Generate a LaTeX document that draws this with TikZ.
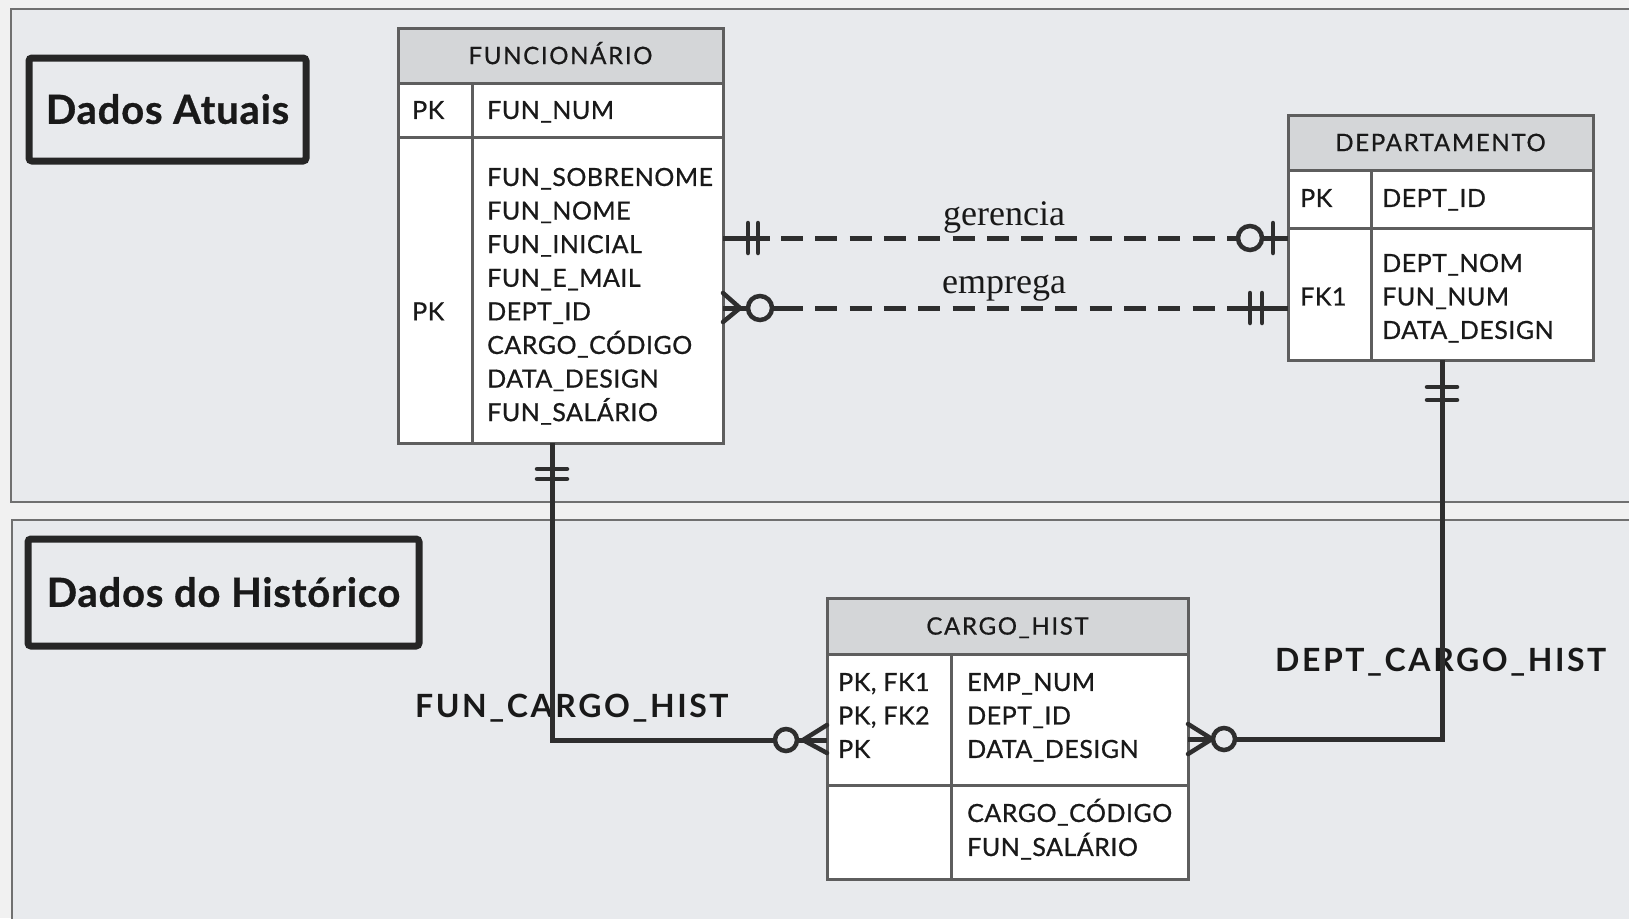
\documentclass[tikz,border=0pt]{standalone}
\usepackage{fontspec}
\usetikzlibrary{calc,positioning}
\newfontfamily\erfont{Lato}[FakeBold=0.7, LetterSpace=2]
\newfontfamily\headfont{Lato}[FakeBold=0.7, LetterSpace=7]
\newfontfamily\namefont{Lato}[LetterSpace=8]
\newfontfamily\relfont{Liberation Serif}
\definecolor{gapgray}{HTML}{F1F1F1}
\definecolor{secgray}{HTML}{E8EAED}
\definecolor{headgray}{HTML}{D4D6D8}
\definecolor{framegray}{HTML}{707070}
\definecolor{linegray}{HTML}{5E5E5E}
\definecolor{inkgray}{HTML}{2E2E2E}

\begin{document}
\begin{tikzpicture}[
    x=1pt, y=-1pt,
    tblcell/.style={draw=linegray, line width=3pt, fill=white, inner sep=0pt, outer sep=0pt, anchor=north west},
    tblhead/.style={tblcell, fill=headgray, font=\headfont\fontsize{24}{24}\selectfont, text=black!90, text height=17.2pt, text depth=0pt},
    celltext/.style={font=\erfont\fontsize{25}{25}\selectfont, text=black!90, inner sep=0pt, text height=17.9pt, text depth=0pt, anchor=west},
    relline/.style={draw=inkgray, line width=5pt},
    reldash/.style={relline, dash pattern=on 22pt off 12.3pt},
    endbar/.style={draw=inkgray, line width=4.5pt, line cap=round, line join=round},
    endring/.style={draw=inkgray, line width=4.5pt, fill=secgray},
    rellabel/.style={font=\relfont\fontsize{36}{36}\selectfont, text=black!90, inner sep=0pt, anchor=base},
    namelabel/.style={font=\namefont\bfseries\fontsize{32}{32}\selectfont, text=black!90, inner sep=0pt, anchor=base west},
    secbox/.style={draw=black!85, line width=7pt, rounded corners=3pt, inner sep=0pt, outer sep=0pt, anchor=north west, font=\erfont\bfseries\fontsize{40}{40}\selectfont, text=black!90, text height=28.6pt, text depth=0pt},
  ]

  % ========= SECTIONS =========
  \path[use as bounding box] (0,0) rectangle (1629,918);
  \clip (0,0) rectangle (1629,918);
  \fill[gapgray] (0,0) rectangle (1629,918);
  \draw[framegray, line width=2.5pt, fill=secgray] (11,9) rectangle (1660,502);
  \draw[framegray, line width=2.5pt, fill=secgray] (12,520) rectangle (1660,950);

  \node[secbox, minimum width=277pt, minimum height=103pt] (atuais) at (29,58) {Dados Atuais};
  \node[secbox, minimum width=391pt, minimum height=107pt] (hist) at (28,539) {Dados do Histórico};

  % ========= FUNCIONARIO =========
  \node[tblhead, minimum width=325pt, minimum height=55pt] (fun-head) at (398,28) {FUNCIONÁRIO};
  \node[tblcell, minimum width=74pt, minimum height=54pt] (fun-pk) at (398,83) {};
  \node[tblcell, minimum width=251pt, minimum height=54pt] (fun-id) at (472,83) {};
  \node[tblcell, minimum width=74pt, minimum height=306pt] (fun-fk) at (398,137) {};
  \node[tblcell, minimum width=251pt, minimum height=306pt] (fun-att) at (472,137) {};
  \node[celltext] (fun-pk1) at (412,110) {PK};
  \node[celltext] (fun-key) at (487,110) {FUN\_NUM};
  \foreach \t [count=\i] in {FUN\_SOBRENOME, FUN\_NOME, FUN\_INICIAL, FUN\_E\_MAIL, DEPT\_ID, CARGO\_CÓDIGO, DATA\_DESIGN, FUN\_SALÁRIO}
    \node[celltext] (fun-a\i) at (487, 177+33.6*\i-33.6) {\t};
  \node[celltext] (fun-pk2) at (412,311.4) {PK};

  % ========= DEPARTAMENTO =========
  \node[tblhead, minimum width=305pt, minimum height=55pt] (dep-head) at (1288,115) {DEPARTAMENTO};
  \node[tblcell, minimum width=83pt, minimum height=58pt] (dep-pk) at (1288,170) {};
  \node[tblcell, minimum width=222pt, minimum height=58pt] (dep-id) at (1371,170) {};
  \node[tblcell, minimum width=83pt, minimum height=132pt] (dep-fk) at (1288,228) {};
  \node[tblcell, minimum width=222pt, minimum height=132pt] (dep-att) at (1371,228) {};
  \node[celltext] (dep-pk1) at (1300,198) {PK};
  \node[celltext] (dep-key) at (1382,198) {DEPT\_ID};
  \foreach \t [count=\i] in {DEPT\_NOM, FUN\_NUM, DATA\_DESIGN}
    \node[celltext] (dep-a\i) at (1382, 263+33.5*\i-33.5) {\t};
  \node[celltext] (dep-fk1) at (1300,296.5) {FK1};

  % ========= CARGO_HIST =========
  \node[tblhead, minimum width=361pt, minimum height=56pt] (car-head) at (827,598) {CARGO\_HIST};
  \node[tblcell, minimum width=124pt, minimum height=131pt] (car-pk) at (827,654) {};
  \node[tblcell, minimum width=237pt, minimum height=131pt] (car-id) at (951,654) {};
  \node[tblcell, minimum width=124pt, minimum height=94pt] (car-fk) at (827,785) {};
  \node[tblcell, minimum width=237pt, minimum height=94pt] (car-att) at (951,785) {};
  \node[celltext] (car-k1) at (838,682) {PK, FK1};
  \node[celltext] (car-k2) at (838,715.5) {PK, FK2};
  \node[celltext] (car-k3) at (838,749) {PK};
  \foreach \t [count=\i] in {EMP\_NUM, DEPT\_ID, DATA\_DESIGN}
    \node[celltext] (car-a\i) at (967, 682+33.5*\i-33.5) {\t};
  \node[celltext] (car-b1) at (967,813) {CARGO\_CÓDIGO};
  \node[celltext] (car-b2) at (967,847) {FUN\_SALÁRIO};

  % ========= LABELS =========
  \node[rellabel] (ger-lbl) at (1004,225) {gerencia};
  \node[rellabel] (emp-lbl) at (1004,293) {emprega};
  \node[namelabel] (fch-lbl) at (415,717) {FUN\_CARGO\_HIST};
  \node[namelabel] (dch-lbl) at (1275,671) {DEPT\_CARGO\_HIST};

  % ========= RELATIONSHIPS =========
  % gerencia
  \coordinate (ger-a) at (fun-att.east |- 0,238);
  \coordinate (ger-b) at (dep-fk.west |- 0,238);
  \draw[reldash, shorten <=58pt, shorten >=73pt] (ger-a) -- (ger-b);
  \draw[relline] (ger-a) -- ($(ger-a)+(47,0)$);
  \draw[relline] ($(ger-b)+(-61,0)$) -- (ger-b);
  \draw[endbar] ($(ger-a)+(25,-15)$) -- ++(0,30);
  \draw[endbar] ($(ger-a)+(35,-15)$) -- ++(0,30);
  \draw[endring] ($(ger-b)+(-38,0)$) circle[radius=12];
  \draw[endbar] ($(ger-b)+(-15,-15)$) -- ++(0,30);

  % emprega
  \coordinate (emp-a) at (fun-att.east |- 0,308);
  \coordinate (emp-b) at (dep-fk.west |- 0,308);
  \draw[reldash, shorten <=58pt, shorten >=73pt] (emp-a) -- (emp-b);
  \draw[relline] (emp-a) -- ($(emp-a)+(58,0)$);
  \draw[relline] ($(emp-b)+(-61,0)$) -- (emp-b);
  \draw[endbar] ($(emp-a)+(0,-15)$) -- ($(emp-a)+(17,0)$) -- ($(emp-a)+(0,14)$);
  \draw[endring] ($(emp-a)+(37,0)$) circle[radius=12];
  \draw[endbar] ($(emp-b)+(-38,-15)$) -- ++(0,30);
  \draw[endbar] ($(emp-b)+(-26,-15)$) -- ++(0,30);

  % FUN_CARGO_HIST
  \coordinate (fch-a) at (fun-att.south -| 552,0);
  \coordinate (fch-b) at (car-pk.west |- 0,740);
  \draw[relline] (fch-a) |- (fch-b);
  \draw[endbar] ($(fch-a)+(-15,26)$) -- ++(30,0);
  \draw[endbar] ($(fch-a)+(-15,36)$) -- ++(30,0);
  \draw[endbar] ($(fch-b)+(0,-15)$) -- ($(fch-b)+(-24,0)$) -- ($(fch-b)+(0,13)$);
  \draw[endring] ($(fch-b)+(-41,0)$) circle[radius=11];

  % DEPT_CARGO_HIST
  \coordinate (dch-a) at (dep-att.south -| 1442,0);
  \coordinate (dch-b) at (car-id.east |- 0,739);
  \draw[relline] (dch-a) |- (dch-b);
  \draw[endbar] ($(dch-a)+(-15,27)$) -- ++(30,0);
  \draw[endbar] ($(dch-a)+(-15,40)$) -- ++(30,0);
  \draw[endbar] ($(dch-b)+(0,-15)$) -- ($(dch-b)+(24,0)$) -- ($(dch-b)+(0,15)$);
  \draw[endring] ($(dch-b)+(36,0)$) circle[radius=11];
\end{tikzpicture}
\end{document}
